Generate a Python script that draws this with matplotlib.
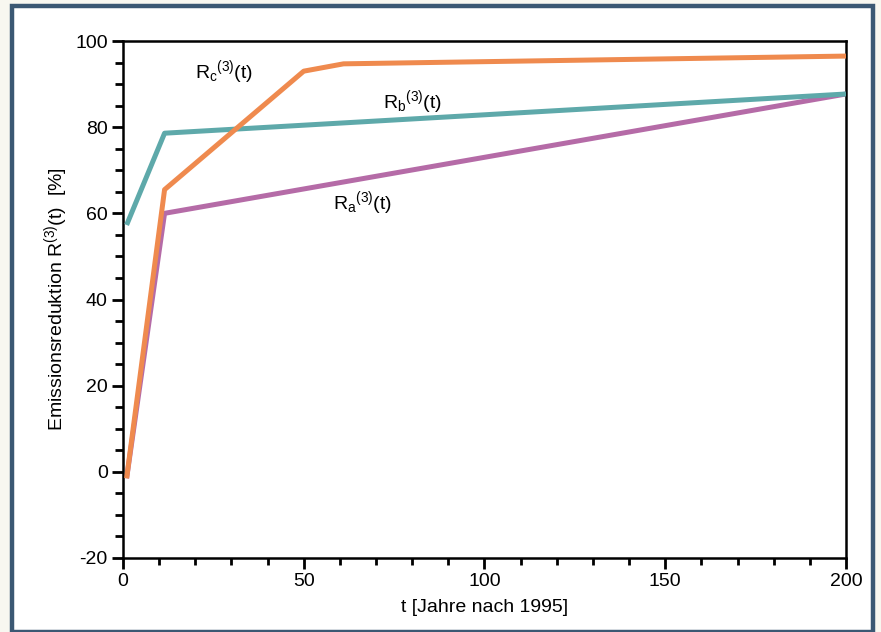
import matplotlib.pyplot as plt
from matplotlib.patches import Rectangle

plt.rcParams['font.family'] = ['Liberation Sans', 'DejaVu Sans']
plt.rcParams['axes.unicode_minus'] = False
plt.rcParams['mathtext.fontset'] = 'custom'
plt.rcParams['mathtext.rm'] = 'Liberation Sans'
plt.rcParams['mathtext.it'] = 'Liberation Sans'

# reduction curves, t in years after 1995, R in percent
t_c = [1, 11.5, 50, 61, 200]
r_c = [-1.5, 65.5, 93, 94.7, 96.5]

t_b = [1, 11.5, 200]
r_b = [57.3, 78.6, 87.7]

t_a = [1, 11.5, 200]
r_a = [-1.5, 60, 87.7]

x_ticks = [0, 50, 100, 150, 200]
y_ticks = [-20, 0, 20, 40, 60, 80, 100]

fig = plt.figure(figsize=(8.81, 6.32), dpi=100, facecolor='#f8f7f0')

# white panel with dark frame, kept behind the axes
frame = Rectangle((12/881, 0), 861/881, 626/632, transform=fig.transFigure,
                  facecolor='white', edgecolor='#3b5873', linewidth=3.2, zorder=-10)
fig.add_artist(frame)

ax = fig.add_axes([123/881, 1 - 558/632, 723/881, 517/632])
ax.set_facecolor('none')

ax.plot(t_a, r_a, color='#b56ba7', lw=3.6, solid_capstyle='butt', zorder=2)
ax.plot(t_b, r_b, color='#5ea9aa', lw=3.6, solid_capstyle='butt', zorder=3)
ax.plot(t_c, r_c, color='#ef8a4e', lw=3.6, solid_capstyle='butt', zorder=4)

ax.text(20, 91.5, r'R$_\mathrm{c}$$^\mathrm{(3)}$(t)', fontsize=14)
ax.text(72, 84.5, r'R$_\mathrm{b}$$^\mathrm{(3)}$(t)', fontsize=14)
ax.text(58, 61, r'R$_\mathrm{a}$$^\mathrm{(3)}$(t)', fontsize=14)

ax.set_xlim(0, 200)
ax.set_ylim(-20, 100)
ax.set_xticks(x_ticks)
ax.set_yticks(y_ticks)
ax.set_xticks(range(0, 201, 10), minor=True)
ax.set_yticks(range(-20, 101, 5), minor=True)
ax.tick_params(which='major', length=8, width=2, labelsize=14, direction='out', pad=3)
ax.tick_params(which='minor', length=6, width=2, direction='out')
ax.tick_params(axis='x', which='minor', length=5)
for s in ax.spines.values():
    s.set_linewidth(1.8)

ax.set_xlabel('t [Jahre nach 1995]', fontsize=14, labelpad=6)
ax.set_ylabel(r'Emissionsreduktion R$^\mathrm{(3)}$(t)  [%]', fontsize=14, labelpad=4)

fig.savefig('out.png', dpi=100, facecolor=fig.get_facecolor())
